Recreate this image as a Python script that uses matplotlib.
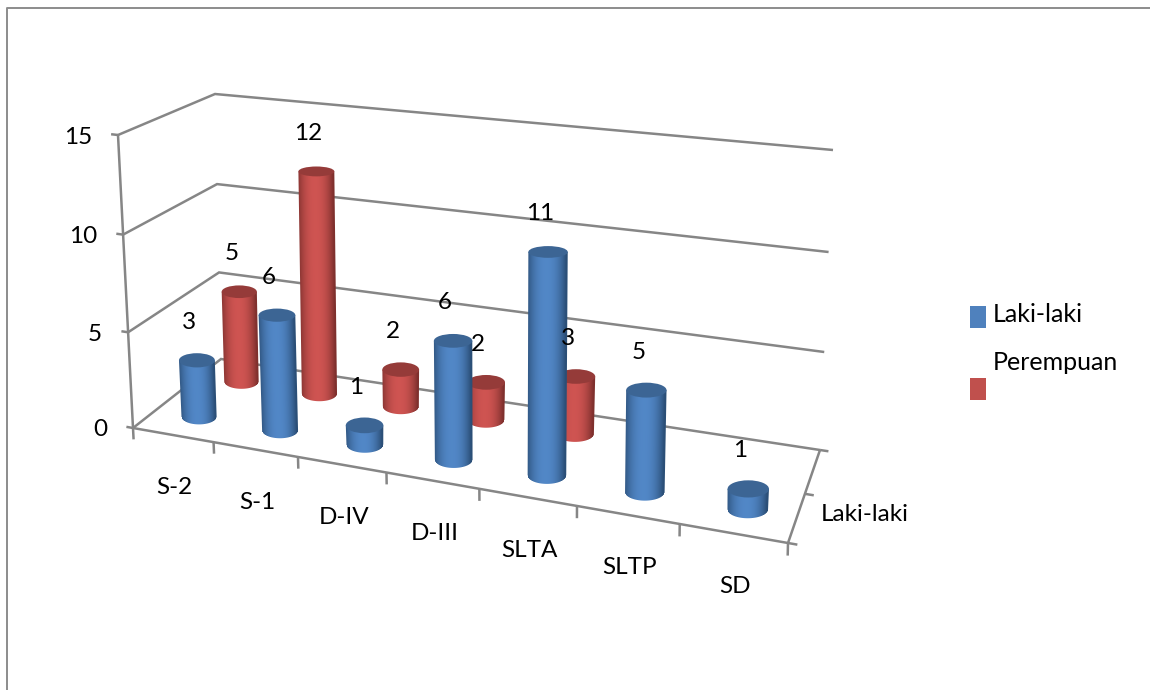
import numpy as np
import matplotlib
matplotlib.use("Agg")
import matplotlib.pyplot as plt
from matplotlib.patches import Ellipse, Rectangle

categories = ["S-2", "S-1", "D-IV", "D-III", "SLTA", "SLTP", "SD"]
laki = [3, 6, 1, 6, 11, 5, 1]
perempuan = [5, 12, 2, 2, 3, 0, 0]
value_ticks = [0, 5, 10, 15]
series_names = ["Laki-laki", "Perempuan"]
depth_label = "Laki-laki"

FONT = "Lato"
FS = 17.5
GRID = "#868686"

# 3-D scene calibration (pixel positions of the chart box)
floor_src = np.array([[0, 0], [1, 0], [1, 1], [0, 1]], float)
floor_dst = np.array([[133, 428], [788, 543], [820, 450], [221, 359]], float)
A, b = [], []
for (s, t), (x, y) in zip(floor_src, floor_dst):
    A.append([s, t, 1, 0, 0, 0, -s * x, -t * x]); b.append(x)
    A.append([0, 0, 0, s, t, 1, -s * y, -t * y]); b.append(y)
H = np.append(np.linalg.solve(np.array(A), np.array(b)), 1).reshape(3, 3)
# pixel vector of the full value-axis height at each floor corner
H_FL, H_FR, H_BR, H_BL = map(np.array, [(-15, -293), (8, -325), (13, -300), (-6, -265)])
VMAX = 15.0


def project(u, v, h=0.0):
    p = H @ np.array([u, v, 1.0])
    base = p[:2] / p[2]
    up = ((1 - u) * (1 - v) * H_FL + u * (1 - v) * H_FR + u * v * H_BR + (1 - u) * v * H_BL)
    persp = h * (0.97 + 0.03 * h / VMAX)  # foreshortening of the value axis
    return base + up * persp / VMAX


fig = plt.figure(figsize=(11.5, 6.9), dpi=100, facecolor="white")
ax = fig.add_axes([0, 0, 1, 1])
LW = 1.8


def seg(points, z=1, lw=LW):
    pts = np.array(points)
    ax.plot(pts[:, 0], pts[:, 1], color=GRID, lw=lw, zorder=z, solid_capstyle="butt", solid_joinstyle="miter")


# chart frame
ax.plot([7, 7, 1150], [690, 8, 8], color="#8c8c8c", lw=1.4, zorder=0)

# walls, floor, ticks
for val in value_ticks:
    seg([project(0, 0, val), project(0, 1, val), project(1, 1, val)])
    seg([project(-0.012, 0, val), project(0, 0, val)])
    x, y = project(0, 0, val)
    ax.text(x - 26, y + 2, str(val), ha="right", va="center", fontsize=FS, family=FONT, color="black", zorder=20)
seg([project(0, 0, 0), project(0, 0, VMAX)])
seg([project(0, 0, 0), project(1, 0, 0), project(1, 1, 0)])
for i in range(len(categories) + 1):
    u = i / len(categories)
    seg([project(u, 0, 0), project(u, 0, -0.6)])
for v in (0, 0.5, 1):
    seg([project(1, v, 0), project(1.012, v, 0)])

for i, cat in enumerate(categories):
    x, y = project((i + 0.5) / len(categories), 0, 0)
    ax.text(x + 2, y + 53, cat, ha="center", va="center", fontsize=FS, family=FONT, color="black", zorder=20)
dx, dy = project(1, 0.25, 0)
ax.text(dx + 24, dy - 3, depth_label, ha="left", va="center", fontsize=FS, family=FONT, color="black", zorder=20)


def semi_h(y):
    return 5.0 + (y - 177) * 0.0115


def cylinder(u, v, val, mid, dark, lid, z):
    base = project(u, v, 0)
    top = project(u, v, val)
    scale = np.linalg.norm(project(u + 0.01, v) - project(u - 0.01, v)) / 0.02
    w = 18 * (scale / 590) ** 0.5
    wt, hb, ht = w * 1.02, semi_h(base[1]), semi_h(top[1])
    # shaded body as a pixel-aligned image
    x0 = int(min(base[0] - w, top[0] - wt)) - 2
    x1 = int(max(base[0] + w, top[0] + wt)) + 3
    y0 = int(top[1]) - 1
    y1 = int(base[1] + hb) + 3
    xs, ys = np.meshgrid(np.arange(x0, x1) + 0.5, np.arange(y0, y1) + 0.5)
    f = np.clip((ys - top[1]) / (base[1] - top[1]), 0, 1)
    cx = top[0] + (base[0] - top[0]) * f
    hw = wt + (w - wt) * f
    t = np.clip((xs - cx) / hw, -1, 1)
    s = np.clip(1 - np.abs(t + 0.08) ** 2.2, 0, 1)[..., None]
    rgb = np.array(dark) + (np.array(mid) - np.array(dark)) * s
    a_side = np.clip(hw - np.abs(xs - cx) + 0.5, 0, 1)
    ybot = base[1] + hb * np.sqrt(1 - t ** 2)
    a_bot = np.clip(ybot - ys + 0.5, 0, 1)
    a_top = np.clip(ys - top[1] + 0.5, 0, 1)
    rgba = np.dstack([rgb, a_side * a_bot * a_top])
    ax.imshow(rgba, extent=(x0, x1, y1, y0), origin="upper", interpolation="nearest",
              aspect="auto", zorder=z)
    ax.add_patch(Ellipse(top, 2 * wt, 2 * ht, facecolor=lid, edgecolor="none", zorder=z + 0.1))
    return top


BLUE = dict(mid=(0.32, 0.53, 0.78), dark=(0.17, 0.31, 0.47), lid="#3c6594")
RED = dict(mid=(0.81, 0.33, 0.32), dark=(0.50, 0.19, 0.18), lid="#953b39")

n = len(categories)
U_SHIFT = 0.006
tops = []
for i, val in enumerate(perempuan):
    if val > 0:
        tops.append((val, cylinder((i + 0.5) / n + U_SHIFT, 0.75, val, z=5 + i * 0.2, **RED)))
for i, val in enumerate(laki):
    if val > 0:
        tops.append((val, cylinder((i + 0.5) / n + U_SHIFT, 0.25, val, z=8 + i * 0.2, **BLUE)))
for val, top in tops:
    ax.text(top[0] - 8, top[1] - 38, str(val), ha="center", va="center", fontsize=FS, family=FONT, color="black", zorder=20)

# legend
ax.add_patch(Rectangle((970, 306), 16, 22, facecolor="#4f81bd", edgecolor="none"))
ax.add_patch(Rectangle((970, 378), 16, 22, facecolor="#c0504d", edgecolor="none"))
ax.text(993, 314, series_names[0], ha="left", va="center", fontsize=18, family=FONT, color="black")
ax.text(993, 362, series_names[1], ha="left", va="center", fontsize=18, family=FONT, color="black")

ax.set_xlim(0, 1150)
ax.set_ylim(690, 0)
ax.axis("off")
fig.savefig("out.png", dpi=100)
